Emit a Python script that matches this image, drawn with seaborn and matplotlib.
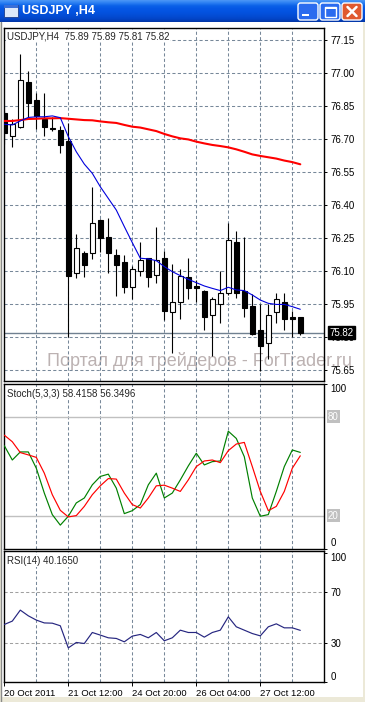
import numpy as np
import pandas as pd
import seaborn as sns
import matplotlib.pyplot as plt
from matplotlib.patches import Rectangle, FancyBboxPatch
from matplotlib.colors import LinearSegmentedColormap

# USDJPY H4 candles
bar_open = [76.817, 76.715, 76.756, 76.959, 76.877, 76.792, 76.748, 76.741, 76.691, 76.089,
            76.180, 76.180, 76.332, 76.256, 76.173, 76.141, 76.029, 76.100, 76.158, 76.080,
            76.158, 75.912, 75.958, 76.071, 76.032, 76.011, 75.898, 75.949, 75.999, 76.230,
            76.011, 75.942, 75.832, 75.771, 75.912, 75.958, 75.892, 75.89]
bar_high = [76.825, 76.789, 77.086, 77.009, 76.911, 76.911, 76.798, 76.759, 76.774, 76.267,
            76.192, 76.482, 76.336, 76.340, 76.200, 76.173, 76.123, 76.232, 76.160, 76.299,
            76.192, 76.130, 76.108, 76.158, 76.059, 76.014, 75.980, 76.100, 76.320, 76.282,
            76.253, 75.996, 75.950, 75.950, 76.001, 75.999, 75.918, 75.89]
bar_low = [76.676, 76.665, 76.752, 76.802, 76.747, 76.715, 76.738, 76.638, 75.798, 76.068,
           76.071, 76.156, 76.188, 76.090, 75.988, 75.999, 75.971, 76.077, 76.029, 76.047,
           75.877, 75.726, 75.882, 75.971, 75.958, 75.832, 75.715, 75.862, 75.990, 75.979,
           75.890, 75.810, 75.645, 75.700, 75.862, 75.832, 75.799, 75.81]
bar_close = [76.726, 76.767, 76.967, 76.865, 76.805, 76.756, 76.745, 76.674, 76.079, 76.205,
             76.129, 76.317, 76.249, 76.180, 76.127, 76.029, 76.108, 76.150, 76.071, 76.150,
             75.920, 75.958, 76.079, 76.021, 76.021, 75.889, 75.973, 75.999, 76.241, 75.999,
             75.930, 75.814, 75.761, 75.899, 75.971, 75.880, 75.880, 75.82]

ma_fast = [76.767, 76.764, 76.782, 76.798, 76.801, 76.801, 76.805, 76.797, 76.711, 76.642,
           76.586, 76.544, 76.483, 76.430, 76.377, 76.302, 76.229, 76.158, 76.155, 76.147,
           76.120, 76.097, 76.079, 76.062, 76.047, 76.032, 76.021, 76.011, 76.026, 76.014,
           76.011, 75.991, 75.968, 75.953, 75.948, 75.948, 75.938, 75.926]
ma_slow = [76.782, 76.782, 76.786, 76.791, 76.792, 76.794, 76.794, 76.795, 76.792, 76.789,
           76.786, 76.785, 76.780, 76.776, 76.773, 76.764, 76.756, 76.752, 76.744, 76.736,
           76.723, 76.712, 76.703, 76.698, 76.688, 76.680, 76.673, 76.668, 76.662, 76.653,
           76.642, 76.630, 76.623, 76.617, 76.611, 76.602, 76.595, 76.585]

stoch_main = [62.5, 53.8, 58.7, 58.7, 48.8, 33.7, 20.6, 14.2, 19.6, 27.7,
              30.7, 38.7, 43.8, 45.2, 36.7, 21.2, 23.0, 26.7, 38.7, 45.8,
              30.7, 33.7, 41.7, 50.2, 57.9, 50.8, 52.8, 53.2, 71.3, 66.9,
              55.8, 30.7, 19.6, 20.6, 34.7, 49.8, 59.9, 58.4158]
stoch_signal = [68.9, 64.9, 58.3, 56.9, 55.4, 45.8, 32.7, 23.2, 19.2, 20.0,
                25.6, 32.7, 38.1, 42.5, 42.2, 33.7, 26.7, 24.6, 30.7, 38.1,
                38.5, 36.7, 34.7, 41.7, 49.8, 53.2, 53.8, 52.2, 59.5, 63.5,
                64.5, 49.8, 34.7, 23.0, 25.6, 34.7, 48.8, 56.3496]
rsi = [44.7, 47.3, 55.8, 51.4, 48.1, 45.9, 45.7, 43.7, 26.6, 30.8,
       30.0, 38.5, 36.5, 34.4, 33.9, 31.3, 35.7, 37.0, 34.4, 38.5,
       32.1, 34.4, 40.3, 38.5, 38.5, 34.9, 38.5, 40.3, 50.6, 42.9,
       40.3, 37.7, 35.9, 42.9, 45.2, 42.1, 42.1, 40.165]

time_labels = ['20 Oct 2011', '21 Oct 12:00', '24 Oct 20:00', '26 Oct 04:00', '27 Oct 12:00']
label_bars = [0, 8, 16, 24, 32]
grid_bars = [4, 8, 12, 16, 20, 24, 28, 32, 36]
price_levels = [77.15, 77.00, 76.85, 76.70, 76.55, 76.40, 76.25, 76.10, 75.95, 75.80, 75.65]

df = pd.DataFrame({'bar': np.arange(len(bar_open)), 'open': bar_open, 'high': bar_high,
                   'low': bar_low, 'close': bar_close, 'ma_fast': ma_fast, 'ma_slow': ma_slow,
                   'k': stoch_main, 'd': stoch_signal, 'rsi': rsi})

sns.set_style('white')
plt.rcParams['font.family'] = ['Liberation Sans', 'DejaVu Sans']

W, H = 365, 702
fig = plt.figure(figsize=(W / 100, H / 100), dpi=100, facecolor='#ECE9D8')


def px_rect(l, t, r, b):
    return [l / W, 1 - b / H, (r - l) / W, (b - t) / H]


# window chrome
bg = fig.add_axes([0, 0, 1, 1])
xp_blue = LinearSegmentedColormap.from_list('xp', ['#4A96F6', '#2A7EF2', '#0C62E8', '#0558E5',
                                                   '#0454E2', '#0350DB', '#034BD2', '#0344C6', '#0236A8'])
bg.imshow(np.linspace(0, 1, 44).reshape(-1, 1), cmap=xp_blue, extent=(0, W, 22, 0), aspect='auto')
bg.add_patch(Rectangle((2, 22), 361, 675, fc='white', ec='none'))
bg.plot([0.5, 0.5], [22, H], color='#8A8A8A', lw=1)
bg.add_patch(Rectangle((4, 5), 14, 12, fc='#DCE8FA', ec='#1E3E8C', lw=0.6))
bg.add_patch(Rectangle((4, 5), 14, 3, fc='#3A6FD8', ec='none'))
bg.text(22, 11.5, 'USDJPY ,H4', color='white', fontsize=9, fontweight='bold', va='center', ha='left')
for x0, fc in [(298, '#2B6BEF'), (320, '#2B6BEF'), (342, '#E0592F')]:
    bg.add_patch(FancyBboxPatch((x0, 3), 20, 17, boxstyle='round,pad=0,rounding_size=2.5',
                                fc=fc, ec='white', lw=1))
bg.add_patch(Rectangle((302, 13.5), 7, 2.5, fc='white', ec='none'))
bg.add_patch(Rectangle((324.5, 6.5), 11, 10, fill=False, ec='white', lw=1))
bg.add_patch(Rectangle((324.5, 6.5), 11, 2.5, fc='white', ec='none'))
bg.plot([347.5, 356.5], [7, 16], color='white', lw=1.8)
bg.plot([347.5, 356.5], [16, 7], color='white', lw=1.8)
bg.text(47, 361, 'Портал для трейдеров - ForTrader.ru', fontsize=13, color='#BCB2B2',
        va='center', ha='left')
bg.set_xlim(0, W)
bg.set_ylim(H, 0)
bg.axis('off')

ax_p = fig.add_axes(px_rect(3.5, 28, 324, 381), facecolor='none')
ax_s = fig.add_axes(px_rect(3.5, 384, 324, 548.5), facecolor='none')
ax_r = fig.add_axes(px_rect(3.5, 551, 324, 682.3), facecolor='none')

grid_kw = dict(color='#778899', lw=0.75, ls=(0, (3, 2.2)))
for ax in (ax_p, ax_s, ax_r):
    for g in grid_bars:
        ax.axvline(g, zorder=0, **grid_kw)
    for s in ax.spines.values():
        s.set_visible(True)
        s.set_color('black')
        s.set_linewidth(1.0)
    ax.yaxis.tick_right()
    ax.tick_params(axis='y', right=True, left=False, length=2.5, width=0.7, pad=2,
                   labelsize=7, colors='black')
    ax.tick_params(axis='x', bottom=False, labelbottom=False)

# price panel
for lv in price_levels:
    ax_p.axhline(lv, zorder=0, **grid_kw)
last = df.iloc[-1]
ax_p.axhline(last['close'], color='#708090', lw=1, zorder=1)
up = df['close'] >= df['open']
ax_p.vlines(df['bar'], df['low'], df['high'], color='black', lw=0.8, zorder=2)
ax_p.bar(df['bar'], (df['close'] - df['open']).abs(), bottom=df[['open', 'close']].min(axis=1),
         width=0.58, color=np.where(up, 'white', 'black'), edgecolor='black', linewidth=0.8, zorder=3)
sns.lineplot(data=df, x='bar', y='ma_slow', ax=ax_p, color='#FF0000', lw=1.5, zorder=4)
sns.lineplot(data=df, x='bar', y='ma_fast', ax=ax_p, color='#0000DD', lw=0.8, zorder=4)
ax_p.set_yticks(price_levels)
ax_p.set_yticklabels([f'{v:.2f}' for v in price_levels])
ax_p.set_ylim(77.15 - (381 - 40) / 220, 77.15 + (40 - 28) / 220)
ax_p.text(0.011, 0.977, f"USDJPY,H4  {last['open']:.2f} {last['high']:.2f} {last['low']:.2f} {last['close']:.2f}",
          transform=ax_p.transAxes, fontsize=7, va='center', ha='left', zorder=5,
          bbox=dict(fc='white', ec='none', pad=0.6))
ax_p.annotate(f"{last['close']:.2f}", xy=(1, last['close']), xycoords=('axes fraction', 'data'),
              xytext=(5, 0), textcoords='offset pixels', fontsize=7, color='white', va='center',
              ha='left', annotation_clip=False,
              bbox=dict(boxstyle='square,pad=0.15', fc='black', ec='black'))

# stochastic panel
ax_s.axhline(80, color='#C0C0C0', lw=1, zorder=1)
ax_s.axhline(20, color='#C0C0C0', lw=1, zorder=1)
sns.lineplot(data=df, x='bar', y='k', ax=ax_s, color='#008000', lw=0.85, zorder=3)
sns.lineplot(data=df, x='bar', y='d', ax=ax_s, color='#FF0000', lw=0.85, zorder=3)
ax_s.set_ylim(0, 100)
ax_s.set_yticks([0, 100])
ax_s.set_yticklabels(['0', '100'])
ax_s.get_yticklabels()[0].set_va('bottom')
ax_s.get_yticklabels()[1].set_va('top')
for lv in (80, 20):
    ax_s.annotate(str(lv), xy=(1, lv), xycoords=('axes fraction', 'data'), xytext=(4, 0),
                  textcoords='offset pixels', fontsize=7, color='white', va='center', ha='left',
                  annotation_clip=False, bbox=dict(boxstyle='square,pad=0.15', fc='#C0C0C0', ec='none'))
ax_s.text(0.011, 0.94, f"Stoch(5,3,3) {stoch_main[-1]:.4f} {stoch_signal[-1]:.4f}",
          transform=ax_s.transAxes, fontsize=7, va='center', ha='left', zorder=5,
          bbox=dict(fc='white', ec='none', pad=0.6))

# rsi panel
for lv in (70, 30):
    ax_r.axhline(lv, color='#A0A0A0', lw=0.75, ls=(0, (3, 2.2)), zorder=0)
sns.lineplot(data=df, x='bar', y='rsi', ax=ax_r, color='#262680', lw=0.85, zorder=3)
ax_r.set_ylim(0, 101.5)
ax_r.set_yticks([0, 30, 70, 100])
ax_r.set_yticklabels(['0', '30', '70', '100'])
ax_r.get_yticklabels()[0].set_va('bottom')
ax_r.get_yticklabels()[3].set_va('top')
ax_r.text(0.011, 0.924, f"RSI(14) {rsi[-1]:.4f}", transform=ax_r.transAxes, fontsize=7,
          va='center', ha='left', zorder=5, bbox=dict(fc='white', ec='none', pad=0.6))
ax_r.set_xticks(label_bars)
ax_r.set_xticklabels(time_labels)
ax_r.tick_params(axis='x', bottom=True, labelbottom=True, length=3, width=0.7, pad=1.5,
                 labelsize=6.8, colors='black')
for t in ax_r.get_xticklabels():
    t.set_ha('left')

for ax in (ax_p, ax_s, ax_r):
    ax.set_xlim((3.5 - 4.3) / 8, (324 - 4.3) / 8)
    ax.set_xlabel('')
    ax.set_ylabel('')

fig.savefig('out.png', dpi=100)
